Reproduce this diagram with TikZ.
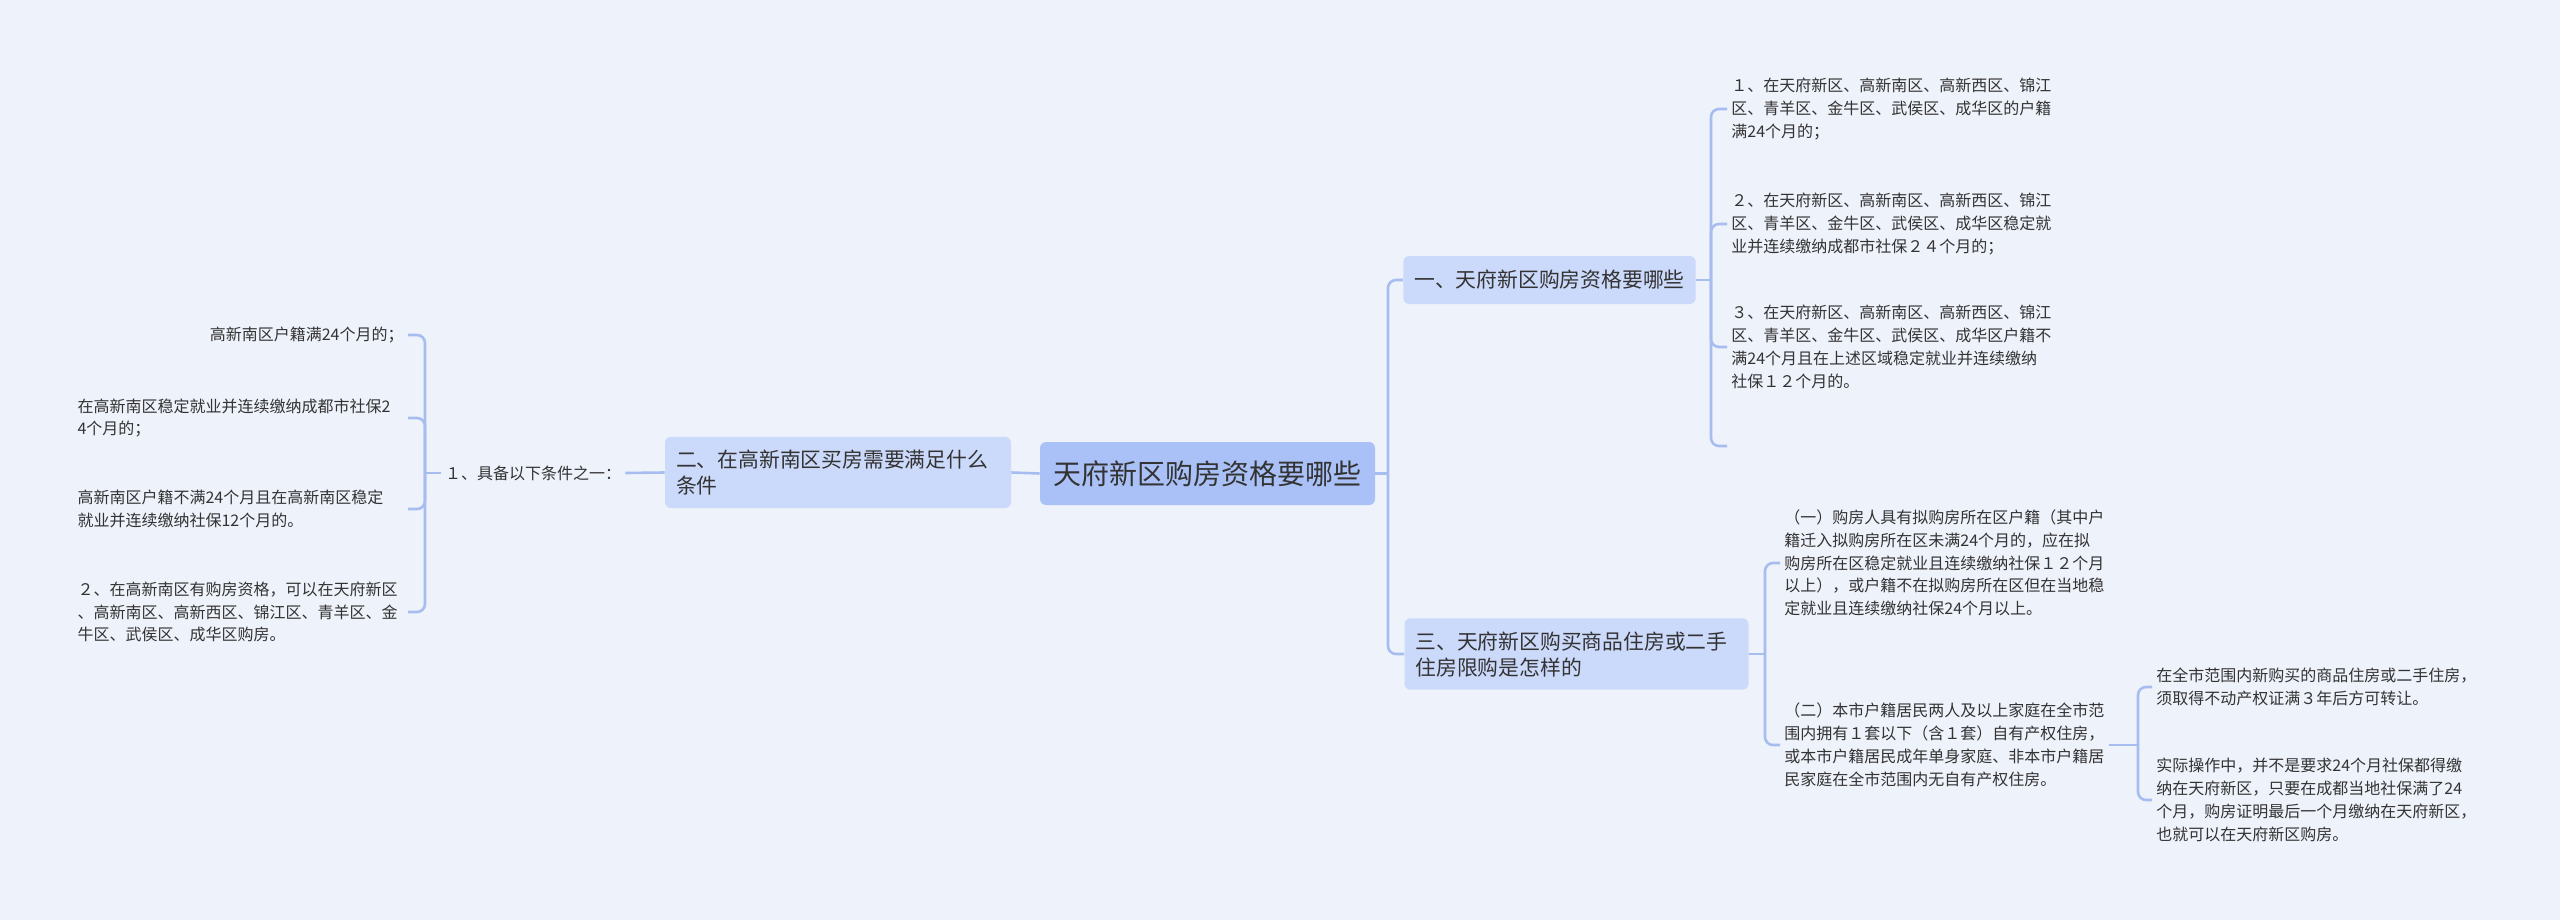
\documentclass[tikz,border=0pt]{standalone}
\usepackage{fontspec}
\setmainfont{Noto Sans CJK SC}
\usetikzlibrary{positioning}
\definecolor{MapBack}{HTML}{EEF2FB}
\definecolor{MapRoot}{HTML}{A9C1F7}
\definecolor{MapTopic}{HTML}{CBD9FA}
\definecolor{MapLine}{HTML}{A7BDF0}
\definecolor{MapText}{HTML}{333333}

\begin{document}
\begin{tikzpicture}[x=0.5pt, y=-0.5pt,
                root/.style={fill=MapRoot, rounded corners=3pt, text=MapText, font=\fontsize{14pt}{17pt}\selectfont, minimum width=167.5pt, minimum height=31.5pt, inner sep=0pt},
                topic/.style={fill=MapTopic, rounded corners=3pt, text=MapText, font=\fontsize{10.4pt}{13pt}\selectfont, align=left, inner xsep=5.5pt, inner ysep=6.5pt},
                leaf/.style={text=MapText, font=\fontsize{8pt}{11.4pt}\selectfont, align=left, inner xsep=2pt, inner ysep=1pt},
                leafL/.style={leaf, text width=163pt, anchor=east},
                leafR/.style={leaf, anchor=west},
                conn/.style={draw=MapLine, line width=1.3pt, rounded corners=4pt}
            ]
                \fill[MapBack] (0,0) rectangle (2560,920);
                \useasboundingbox (0,0) rectangle (2560,920);

                % Root and topics
                \node[root] (root) at (1207.5,473.5) {天府新区购房资格要哪些};
                \node[topic, text width=162pt] (gxn) at (838,472.5) {二、在高新南区买房需要满足什么\\条件};
                \node[topic, minimum height=24pt] (qual) at (1549.5,280) {一、天府新区购房资格要哪些};
                \node[topic, text width=161pt] (limit) at (1576.5,654) {三、天府新区购买商品住房或二手\\住房限购是怎样的};

                % Left branch
                \node[leaf] (cond) at (533,473) {１、具备以下条件之一：};
                \node[leafL, align=right] (gx1) at (408,335) {高新南区户籍满24个月的；};
                \node[leafL] (gx2) at (408,418) {在高新南区稳定就业并连续缴纳成都市社保2\\4个月的；};
                \node[leafL] (gx3) at (408,509) {高新南区户籍不满24个月且在高新南区稳定\\就业并连续缴纳社保12个月的。};
                \node[leafL] (gx4) at (408,612) {２、在高新南区有购房资格，可以在天府新区\\、高新南区、高新西区、锦江区、青羊区、金\\牛区、武侯区、成华区购房。};

                % Qualification leaves
                \node[leafR] (q1) at (1727,109) {１、在天府新区、高新南区、高新西区、锦江\\区、青羊区、金牛区、武侯区、成华区的户籍\\满24个月的；};
                \node[leafR] (q2) at (1727,224) {２、在天府新区、高新南区、高新西区、锦江\\区、青羊区、金牛区、武侯区、成华区稳定就\\业并连续缴纳成都市社保２４个月的；};
                \node[leafR] (q3) at (1727,347) {３、在天府新区、高新南区、高新西区、锦江\\区、青羊区、金牛区、武侯区、成华区户籍不\\满24个月且在上述区域稳定就业并连续缴纳\\社保１２个月的。};
                \coordinate (q4) at (1727,446);

                % Limit leaves
                \node[leafR] (lim1) at (1780,563) {（一）购房人具有拟购房所在区户籍（其中户\\籍迁入拟购房所在区未满24个月的，应在拟\\购房所在区稳定就业且连续缴纳社保１２个月\\以上），或户籍不在拟购房所在区但在当地稳\\定就业且连续缴纳社保24个月以上。};
                \node[leafR] (lim2) at (1780,745) {（二）本市户籍居民两人及以上家庭在全市范\\围内拥有１套以下（含１套）自有产权住房，\\或本市户籍居民成年单身家庭、非本市户籍居\\民家庭在全市范围内无自有产权住房。};
                \node[leafR] (tr1) at (2152,687) {在全市范围内新购买的商品住房或二手住房，\\须取得不动产权证满３年后方可转让。};
                \node[leafR] (tr2) at (2152,800) {实际操作中，并不是要求24个月社保都得缴\\纳在天府新区，只要在成都当地社保满了24\\个月，购房证明最后一个月缴纳在天府新区，\\也就可以在天府新区购房。};

                % Junctions
                \coordinate (rj) at (1388,473.5);
                \coordinate (cj) at (425,473);
                \coordinate (qj) at (1711,280);
                \coordinate (lj) at (1765,654);
                \coordinate (tj) at (2138,745);

                % Connections
                \draw[conn] (root.west) -- (gxn.east);
                \draw[conn] (gxn.west) -- (cond.east);
                \draw[conn] (cond.west) -- (cj);
                \foreach \l in {gx1,gx2,gx3,gx4} {
                    \draw[conn] (cj) |- (\l.east);
                }
                \draw[conn] (root.east) -- (rj);
                \foreach \t in {qual,limit} {
                    \draw[conn] (rj) |- (\t.west);
                }
                \draw[conn] (qual.east) -- (qj);
                \foreach \l in {q1.west,q2.west,q3.west,q4} {
                    \draw[conn] (qj) |- (\l);
                }
                \draw[conn] (limit.east) -- (lj);
                \foreach \l in {lim1,lim2} {
                    \draw[conn] (lj) |- (\l.west);
                }
                \draw[conn] (lim2.east) -- (tj);
                \foreach \l in {tr1,tr2} {
                    \draw[conn] (tj) |- (\l.west);
                }
            \end{tikzpicture}
\end{document}
